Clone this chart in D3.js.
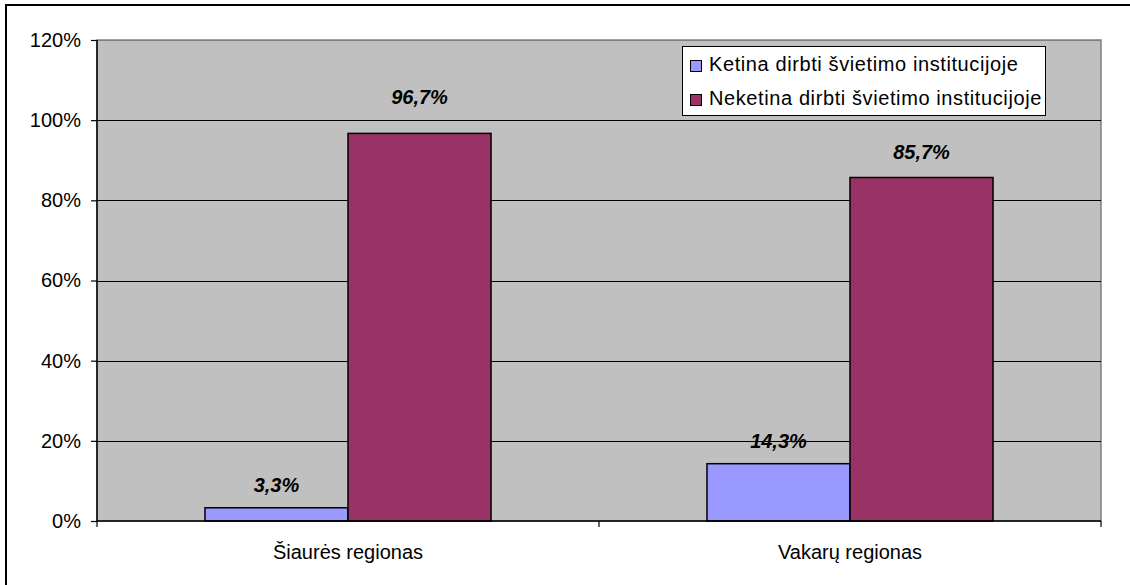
<!DOCTYPE html>
<html>
<head>
<meta charset="utf-8">
<script src="https://cdn.jsdelivr.net/npm/d3@7"></script>
<style>
  html, body { margin: 0; padding: 0; background: #fff; }
  svg { display: block; font-family: Arial, "Liberation Sans", sans-serif; }
</style>
</head>
<body>
<svg id="chart" width="1130" height="585"></svg>
<script>
// ---- data ----
const categories = ["Šiaurės regionas", "Vakarų regionas"];
const seriesNames = ["Ketina dirbti švietimo institucijoje", "Neketina dirbti švietimo institucijoje"];
const ketina = [3.3, 14.3];
const neketina = [96.7, 85.7];
const yTicks = [0, 20, 40, 60, 80, 100, 120];
const colors = ["#9999ff", "#993366"];
// label lift above bar top (px), per category per series (as placed in the original)
const labelLift = [[16, 29], [16, 18]];

const seriesValues = [ketina, neketina];

const svg = d3.select("#chart");
const W = 1130, H = 585;
const plot = { left: 97, top: 40, right: 1101, bottom: 521 };

// outer frame
svg.append("rect").attr("x", 6).attr("y", 5).attr("width", W).attr("height", H)
  .attr("fill", "#fff").attr("stroke", "#000").attr("stroke-width", 2);

const x0 = d3.scaleBand().domain(categories).range([plot.left, plot.right]).padding(0);
const x1 = d3.scaleBand().domain(seriesNames).range([0, x0.bandwidth()])
  .paddingInner(0).paddingOuter(0.755);
const y = d3.scaleLinear().domain([0, 120]).range([plot.bottom, plot.top]);

// plot background
svg.append("rect").attr("x", plot.left).attr("y", plot.top)
  .attr("width", plot.right - plot.left).attr("height", plot.bottom - plot.top)
  .attr("fill", "#c0c0c0").attr("stroke", "#808080").attr("stroke-width", 1.5);

// gridlines
svg.append("g").selectAll("line").data(yTicks.filter(d => d > 0)).join("line")
  .attr("x1", plot.left).attr("x2", plot.right)
  .attr("y1", d => Math.round(y(d)) + 0.5).attr("y2", d => Math.round(y(d)) + 0.5)
  .attr("stroke", d => d === 120 ? "#808080" : "#000").attr("stroke-width", 1);

// bars
const groups = svg.append("g").selectAll("g").data(categories).join("g")
  .attr("transform", d => `translate(${x0(d)},0)`);

groups.each(function(cat, ci) {
  const g = d3.select(this);
  seriesNames.forEach((s, si) => {
    const v = seriesValues[si][ci];
    g.append("rect")
      .attr("x", x1(s)).attr("y", y(v))
      .attr("width", x1.bandwidth()).attr("height", y(0) - y(v))
      .attr("fill", colors[si]).attr("stroke", "#000").attr("stroke-width", 1.5);
    g.append("text")
      .attr("x", x1(s) + x1.bandwidth() / 2)
      .attr("y", y(v) - labelLift[ci][si])
      .attr("text-anchor", "middle")
      .attr("font-size", 20).attr("font-weight", "bold").attr("font-style", "italic")
      .attr("fill", "#000")
      .text(d3.format(".1f")(v).replace(".", ",") + "%");
  });
});

// y axis
const yAxis = d3.axisLeft(y).tickValues(yTicks).tickSize(6).tickPadding(10)
  .tickFormat(d => d + "%");
const yg = svg.append("g").attr("transform", `translate(${plot.left},0)`).call(yAxis);
yg.select(".domain").attr("stroke", "#000").attr("stroke-width", 1.5).attr("d", `M0,${plot.top}V${plot.bottom}`);
yg.selectAll(".tick line").attr("stroke", "#000").attr("stroke-width", 1.2);
yg.selectAll(".tick text").attr("font-size", 20).attr("fill", "#000")
  .attr("font-family", "Arial, 'Liberation Sans', sans-serif");

// x axis: baseline, boundary ticks, centered labels
svg.append("line").attr("x1", plot.left).attr("x2", plot.right)
  .attr("y1", plot.bottom).attr("y2", plot.bottom)
  .attr("stroke", "#000").attr("stroke-width", 1.5);
const boundaries = [plot.left].concat(categories.map(c => x0(c) + x0.bandwidth()));
svg.append("g").selectAll("line").data(boundaries).join("line")
  .attr("x1", d => d).attr("x2", d => d)
  .attr("y1", plot.bottom).attr("y2", plot.bottom + 6)
  .attr("stroke", "#000").attr("stroke-width", 1.2);
svg.append("g").selectAll("text").data(categories).join("text")
  .attr("x", d => x0(d) + x0.bandwidth() / 2)
  .attr("y", 559)
  .attr("text-anchor", "middle")
  .attr("font-size", 20).attr("fill", "#000")
  .text(d => d);

// legend
const lg = svg.append("g");
lg.append("rect").attr("x", 682.5).attr("y", 46.5).attr("width", 363).attr("height", 69)
  .attr("fill", "#fff").attr("stroke", "#000").attr("stroke-width", 1);
seriesNames.forEach((s, i) => {
  const cy = 66 + i * 34;
  lg.append("rect").attr("x", 690.5).attr("y", cy - 5.5).attr("width", 11).attr("height", 11)
    .attr("fill", colors[i]).attr("stroke", "#000").attr("stroke-width", 1);
  lg.append("text").attr("x", 709).attr("y", cy + 5)
    .attr("font-size", 20).attr("letter-spacing", 0.6).attr("fill", "#000")
    .text(s);
});
</script>
</body>
</html>
